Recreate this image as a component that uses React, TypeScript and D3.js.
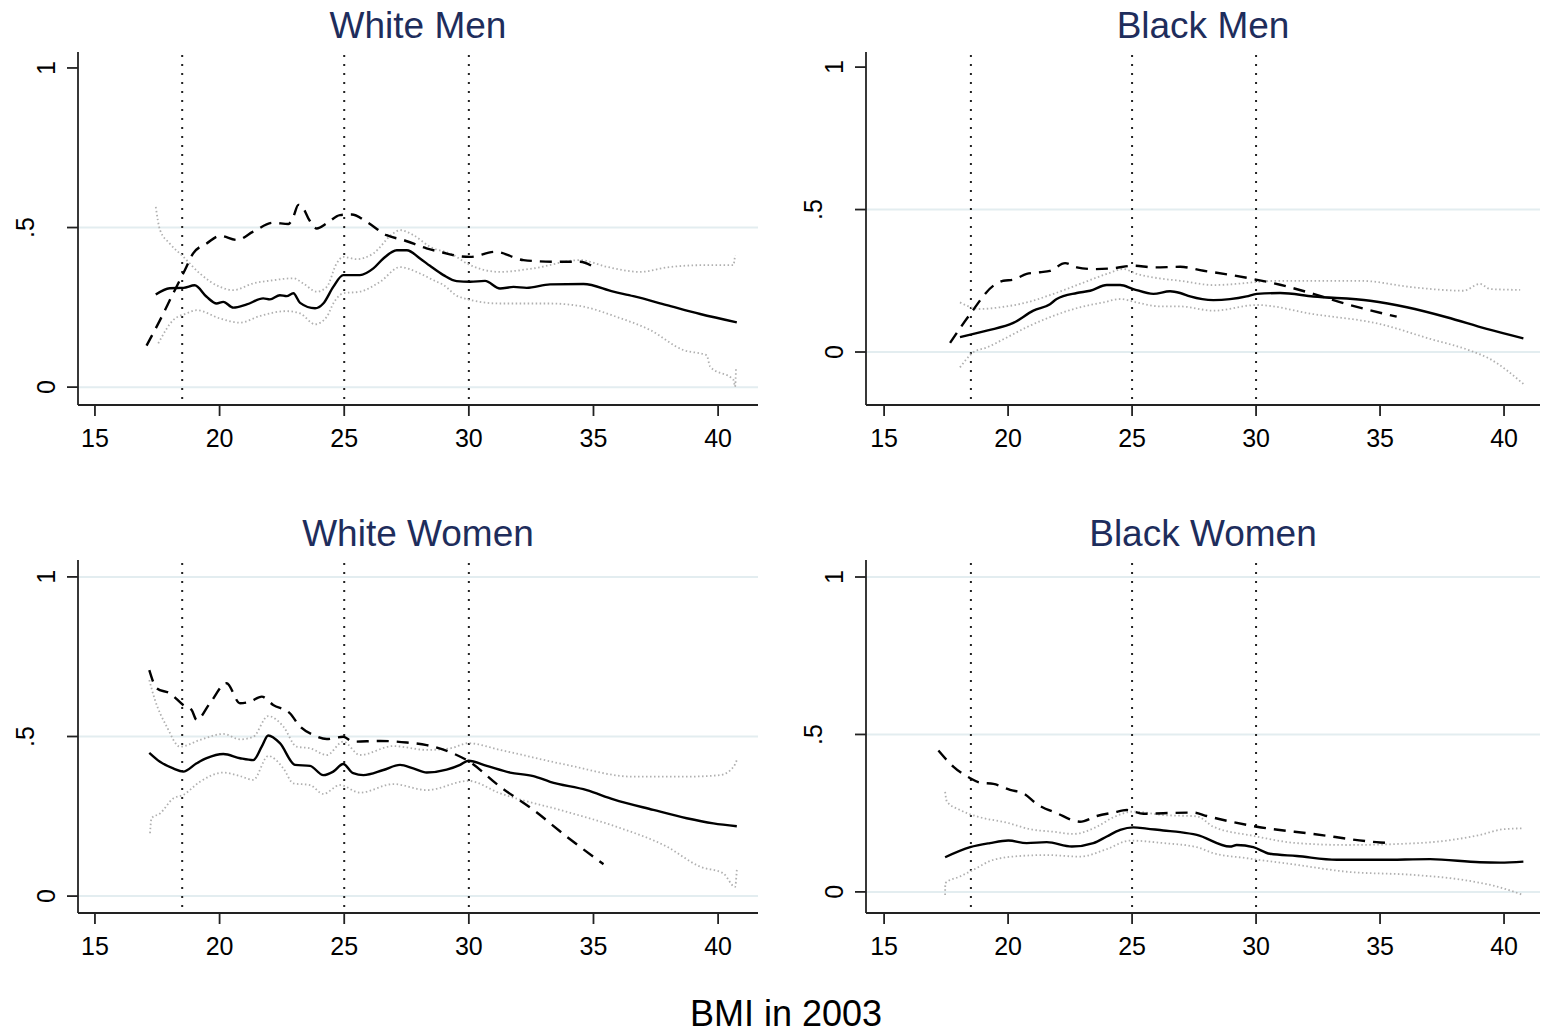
import * as d3 from "d3";

type Pt = [number, number];

const xTicks = [15, 20, 25, 30, 35, 40];
const yTicks = [0, 0.5, 1];
const yTickLabels = ["0", ".5", "1"];
const cutoffs = [18.5, 25, 30];

// White Men
const wmMid: Pt[] = [[17.44,.29],[18.0,.31],[18.55,.311],[19.0,.319],[19.48,.283],[19.88,.262],[20.15,.267],[20.55,.249],[21.09,.259],[21.75,.278],[22.02,.275],[22.42,.288],[22.69,.285],[22.96,.294],[23.23,.264],[23.83,.247],[24.16,.262],[24.56,.314],[24.96,.351],[25.63,.351],[26.17,.372],[26.57,.403],[27.11,.429],[27.51,.429],[28.04,.403],[28.44,.38],[28.98,.351],[29.51,.332],[30.05,.33],[30.65,.333],[31.25,.309],[31.79,.314],[32.32,.311],[33.26,.322],[34.6,.323],[35.8,.299],[36.6,.285],[37.94,.257],[39.28,.229],[40.75,.203]];
const wmAlt: Pt[] = [[17.07,.13],[17.61,.21],[18.14,.294],[18.61,.367],[18.94,.419],[19.48,.45],[20.02,.474],[20.69,.461],[21.35,.487],[22.15,.515],[22.76,.511],[22.96,.534],[23.16,.571],[23.36,.56],[23.56,.529],[23.9,.497],[24.3,.513],[24.83,.539],[25.3,.541],[25.9,.518],[26.7,.476],[27.37,.461],[28.3,.435],[28.98,.421],[29.55,.411],[30.05,.408],[31.05,.424],[32.19,.398],[33.39,.393],[34.46,.393],[35.0,.377]];
const wmHi: Pt[] = [[17.44,.565],[17.61,.492],[18.0,.45],[18.55,.408],[19.21,.356],[20.02,.314],[20.55,.304],[21.35,.325],[22.15,.335],[22.96,.341],[23.36,.325],[23.9,.299],[24.3,.314],[24.7,.388],[24.96,.408],[25.5,.401],[26.17,.419],[26.97,.482],[27.24,.492],[27.78,.476],[28.44,.44],[29.38,.414],[29.91,.388],[31.25,.361],[32.58,.372],[34.46,.398],[35.53,.377],[36.87,.361],[37.94,.375],[39.28,.382],[40.61,.382],[40.68,.414]];
const wmLo: Pt[] = [[17.54,.137],[18.14,.21],[18.68,.231],[19.08,.241],[20.02,.215],[20.82,.202],[21.62,.223],[22.69,.238],[23.23,.231],[23.83,.197],[24.3,.22],[24.56,.262],[24.96,.294],[25.63,.299],[26.44,.33],[27.24,.376],[28.04,.356],[28.58,.335],[28.98,.32],[29.6,.283],[31.25,.262],[33.26,.262],[34.6,.252],[35.93,.22],[37.27,.179],[38.61,.116],[39.54,.1],[39.68,.064],[40.62,.022],[40.68,.001],[40.72,.064]];

// Black Men
const bmMid: Pt[] = [[18.06,.052],[19.14,.075],[20.21,.102],[21.02,.145],[21.69,.168],[21.96,.186],[22.77,.207],[23.31,.215],[23.98,.235],[24.52,.235],[25.05,.221],[25.86,.204],[26.53,.213],[26.94,.207],[27.34,.195],[28.28,.182],[29.62,.195],[30.03,.204],[30.97,.207],[32.31,.195],[34.6,.18],[36.08,.157],[37.69,.122],[39.3,.081],[40.78,.048]];
const bmAlt: Pt[] = [[17.66,.032],[18.47,.133],[19.41,.233],[19.81,.25],[20.21,.254],[20.75,.274],[21.29,.28],[21.69,.285],[22.3,.312],[22.77,.297],[23.44,.291],[24.25,.294],[25.05,.303],[25.86,.297],[26.94,.299],[27.88,.285],[28.28,.28],[29.89,.256],[30.97,.236],[32.31,.204],[33.66,.168],[35.67,.124]];
const bmHi: Pt[] = [[18.06,.174],[18.87,.151],[19.68,.157],[20.75,.174],[21.83,.204],[22.9,.239],[23.98,.274],[24.65,.291],[25.19,.274],[26.13,.258],[26.94,.25],[28.28,.235],[30.97,.25],[34.19,.25],[36.34,.227],[38.36,.215],[39.03,.239],[39.44,.221],[40.65,.218]];
const bmLo: Pt[] = [[18.06,-.054],[18.6,-.001],[19.14,.016],[19.95,.051],[20.75,.087],[21.83,.127],[22.9,.157],[23.84,.174],[24.52,.186],[25.19,.174],[26.13,.16],[26.94,.16],[28.28,.145],[30.03,.165],[32.31,.133],[35.0,.098],[37.02,.046],[38.63,.005],[39.44,-.025],[40.78,-.112]];

// White Women
const wwMid: Pt[] = [[17.18,.449],[17.61,.421],[18.14,.4],[18.54,.39],[19.08,.416],[19.48,.432],[20.15,.445],[20.82,.432],[21.35,.426],[21.69,.468],[21.95,.503],[22.42,.479],[23.03,.411],[23.63,.408],[24.16,.379],[24.56,.39],[24.96,.414],[25.36,.385],[25.77,.379],[26.57,.395],[27.24,.411],[27.77,.4],[28.31,.387],[29.11,.396],[29.65,.411],[29.98,.424],[30.72,.408],[31.65,.387],[32.59,.376],[33.26,.358],[34.73,.332],[35.8,.303],[37.4,.27],[38.74,.244],[39.81,.228],[40.75,.219]];
const wwAlt: Pt[] = [[17.18,.708],[17.48,.651],[18.01,.635],[18.54,.599],[18.88,.583],[19.08,.552],[19.61,.604],[20.28,.667],[20.82,.604],[21.22,.609],[21.69,.625],[22.15,.599],[22.83,.572],[23.23,.531],[23.76,.505],[24.3,.492],[24.96,.499],[25.36,.484],[26.44,.486],[27.51,.481],[28.31,.473],[29.51,.442],[29.92,.426],[31.25,.343],[32.59,.27],[33.93,.186],[35.4,.1]];
const wwHi: Pt[] = [[17.18,.677],[17.41,.614],[17.88,.531],[18.41,.468],[19.21,.489],[20.15,.508],[20.82,.491],[21.35,.499],[21.95,.564],[22.56,.531],[23.09,.468],[23.63,.463],[24.3,.442],[24.96,.484],[25.63,.442],[26.97,.47],[28.31,.458],[29.25,.463],[29.98,.479],[31.25,.458],[33.93,.411],[36.6,.374],[38.61,.374],[40.08,.379],[40.62,.405],[40.75,.426]];
const wwLo: Pt[] = [[17.21,.197],[17.27,.244],[17.61,.259],[18.14,.306],[18.54,.317],[19.21,.358],[20.15,.387],[20.82,.376],[21.35,.364],[21.95,.439],[22.56,.4],[22.96,.353],[23.63,.348],[24.16,.32],[24.83,.348],[25.63,.324],[26.97,.351],[28.31,.332],[29.98,.361],[31.25,.322],[33.93,.264],[35.93,.217],[37.94,.155],[39.28,.092],[40.21,.071],[40.68,.029],[40.75,.082]];

// Black Women
const bwMid: Pt[] = [[17.46,.11],[18.47,.142],[19.27,.155],[20.01,.163],[20.75,.155],[21.56,.158],[22.57,.144],[23.44,.155],[23.98,.176],[24.52,.197],[25.05,.205],[25.59,.201],[26.26,.195],[26.94,.19],[27.61,.181],[28.95,.144],[29.22,.149],[29.89,.142],[30.56,.121],[31.64,.114],[33.25,.102],[35.0,.102],[37.02,.104],[39.03,.094],[39.84,.093],[40.78,.096]];
const bwAlt: Pt[] = [[17.19,.449],[17.79,.398],[18.47,.361],[18.87,.347],[19.41,.343],[20.08,.324],[20.62,.313],[21.16,.279],[21.96,.25],[22.9,.223],[23.58,.241],[24.25,.252],[24.79,.26],[25.46,.248],[26.26,.25],[27.47,.252],[28.01,.241],[30.03,.207],[32.31,.184],[35.0,.157],[35.4,.155]];
const bwHi: Pt[] = [[17.46,.318],[17.53,.287],[18.06,.26],[18.87,.237],[19.95,.22],[20.89,.199],[21.83,.191],[22.63,.184],[23.58,.207],[24.25,.237],[25.05,.255],[26.26,.244],[27.61,.24],[28.28,.207],[29.89,.178],[31.64,.155],[33.66,.149],[35.67,.152],[37.69,.163],[39.03,.181],[39.97,.199],[40.78,.202]];
const bwLo: Pt[] = [[17.46,-.01],[17.47,.028],[18.06,.049],[18.6,.07],[19.41,.102],[20.48,.114],[21.56,.117],[22.9,.112],[23.98,.136],[24.92,.163],[26.26,.155],[27.61,.142],[28.28,.123],[29.62,.107],[31.64,.086],[33.66,.064],[36.34,.054],[38.36,.038],[39.71,.017],[40.78,-.01]];

const W = 1543, H = 1034;
const font = "'Liberation Sans', Arial, sans-serif";
const titleColor = "#1e2d5c";
const gridColor = "#e3edf0";
const ciColor = "#b0b0b0";

const panels = [
  { title: "White Men", mid: wmMid, alt: wmAlt, hi: wmHi, lo: wmLo, grid: [0, 0.5],
    left: 78, right: 758, top: 52, bottom: 405, xDom: [14.32, 41.6], yDom: [-0.056, 1.05] },
  { title: "Black Men", mid: bmMid, alt: bmAlt, hi: bmHi, lo: bmLo, grid: [0, 0.5],
    left: 866, right: 1540, top: 52, bottom: 405, xDom: [14.27, 41.45], yDom: [-0.186, 1.053] },
  { title: "White Women", mid: wwMid, alt: wwAlt, hi: wwHi, lo: wwLo, grid: [0, 0.5, 1],
    left: 78, right: 758, top: 560, bottom: 913, xDom: [14.32, 41.6], yDom: [-0.053, 1.053] },
  { title: "Black Women", mid: bwMid, alt: bwAlt, hi: bwHi, lo: bwLo, grid: [0, 0.5, 1],
    left: 866, right: 1540, top: 560, bottom: 913, xDom: [14.27, 41.45], yDom: [-0.067, 1.054] },
];

function Panel({ p }: { p: typeof panels[number] }) {
  const x = d3.scaleLinear().domain(p.xDom).range([p.left, p.right]);
  const y = d3.scaleLinear().domain(p.yDom).range([p.bottom, p.top]);
  const line = d3.line<Pt>().x(d => x(d[0])).y(d => y(d[1])).curve(d3.curveMonotoneX);
  const cx = (p.left + p.right) / 2;

  return (
    <g>
      <text x={cx} y={p.top - 14} textAnchor="middle" fontSize={37} fill={titleColor} fontFamily={font}>
        {p.title}
      </text>
      {p.grid.map(g => (
        <line key={g} x1={p.left} x2={p.right} y1={y(g)} y2={y(g)} stroke={gridColor} strokeWidth={2} />
      ))}
      {cutoffs.map(c => (
        <line key={c} x1={x(c)} x2={x(c)} y1={p.top + 3} y2={p.bottom} stroke="#222"
          strokeWidth={2} strokeDasharray="2,7" />
      ))}
      <path d={line(p.hi) ?? ""} fill="none" stroke={ciColor} strokeWidth={1.8} strokeDasharray="1.5,2.5" />
      <path d={line(p.lo) ?? ""} fill="none" stroke={ciColor} strokeWidth={1.8} strokeDasharray="1.5,2.5" />
      <path d={line(p.alt) ?? ""} fill="none" stroke="#000" strokeWidth={2.4} strokeDasharray="12,8" />
      <path d={line(p.mid) ?? ""} fill="none" stroke="#000" strokeWidth={2.4} />
      {/* axes */}
      <line x1={p.left} x2={p.left} y1={p.top} y2={p.bottom} stroke="#222" strokeWidth={1.8} />
      <line x1={p.left} x2={p.right} y1={p.bottom} y2={p.bottom} stroke="#222" strokeWidth={1.8} />
      {xTicks.map(t => (
        <g key={t}>
          <line x1={x(t)} x2={x(t)} y1={p.bottom} y2={p.bottom + 11} stroke="#222" strokeWidth={1.8} />
          <text x={x(t)} y={p.bottom + 42} textAnchor="middle" fontSize={25} fontFamily={font}>{t}</text>
        </g>
      ))}
      {yTicks.map((t, i) => {
        const lx = p.left - 23 - (yTickLabels[i].startsWith(".") ? 21 : 0);
        return (
          <g key={t}>
            <line x1={p.left - 11} x2={p.left} y1={y(t)} y2={y(t)} stroke="#222" strokeWidth={1.8} />
            <text transform={`translate(${lx},${y(t)}) rotate(-90)`} textAnchor="middle" fontSize={25}
              fontFamily={font}>{yTickLabels[i]}</text>
          </g>
        );
      })}
    </g>
  );
}

export default function App() {
  return (
    <svg width={W} height={H} style={{ position: "absolute", left: 0, top: 0, background: "#fff" }}>
      <rect width={W} height={H} fill="#fff" />
      {panels.map(p => <Panel key={p.title} p={p} />)}
      <text x={786} y={1026} textAnchor="middle" fontSize={36} fontFamily={font}>BMI in 2003</text>
    </svg>
  );
}
